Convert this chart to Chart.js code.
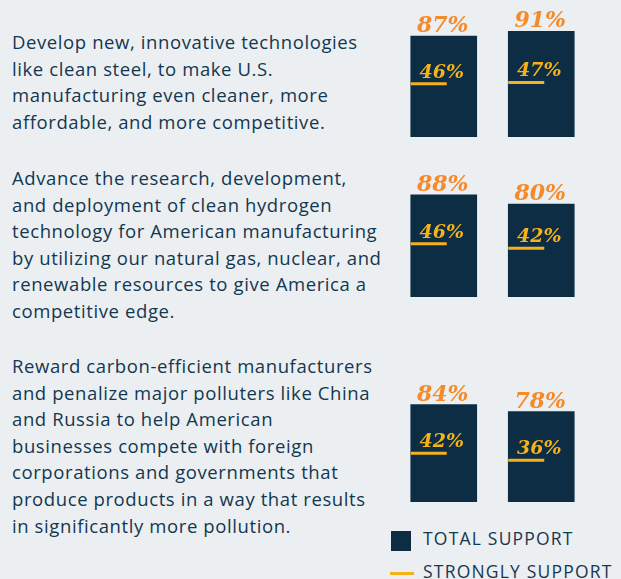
<!DOCTYPE html>
<html>
<head>
<meta charset="utf-8">
<script src="https://cdn.jsdelivr.net/npm/chart.js@4"></script>
<style>
  html, body { margin: 0; padding: 0; }
  body {
    width: 621px; height: 579px; overflow: hidden; position: relative;
    background: #eceff2;
    font-family: "Open Sans", sans-serif;
    color: #123750;
  }
  .stmt {
    position: absolute; left: 12px;
    font-size: 18.5px; line-height: 26.6px; letter-spacing: 0.6px; white-space: nowrap;
  }
  canvas { position: absolute; }
  .legend { position: absolute; left: 391px; font-size: 17.5px; letter-spacing: 1.2px; color: #17374e; white-space: nowrap; }
  .legend .box { position: absolute; left: 0; width: 20px; height: 20px; background: #0c2d44; }
  .legend .dash { position: absolute; left: -1px; width: 24px; height: 3px; background: #f5b21a; }
  .legend span { position: absolute; left: 32px; }
</style>
</head>
<body>

<div class="stmt" style="top:29px">Develop new, innovative technologies<br>like clean steel, to make U.S.<br>manufacturing even cleaner, more<br>affordable, and more competitive.</div>
<div class="stmt" style="top:165px">Advance the research, development,<br>and deployment of clean hydrogen<br>technology for American manufacturing<br>by utilizing our natural gas, nuclear, and<br>renewable resources to give America a<br>competitive edge.</div>
<div class="stmt" style="top:353px">Reward carbon-efficient manufacturers<br>and penalize major polluters like China<br>and Russia to help American<br>businesses compete with foreign<br>corporations and governments that<br>produce products in a way that results<br>in significantly more pollution.</div>

<canvas id="chart1" width="195" height="137" style="left:395px; top:0px"></canvas>
<canvas id="chart2" width="195" height="137" style="left:395px; top:160px"></canvas>
<canvas id="chart3" width="195" height="137" style="left:395px; top:365px"></canvas>

<div class="legend" style="top:531px"><div class="box"></div><span style="top:-5px">TOTAL SUPPORT</span></div>
<div class="legend" style="top:572px"><div class="dash"></div><span style="top:-13px">STRONGLY SUPPORT</span></div>

<script>
// Two bars per statement
const barLabels = ['Bar 1', 'Bar 2'];

// Total support (%) per statement
const totalDevelop = [87, 91];
const totalHydrogen = [88, 80];
const totalReward = [84, 78];

// Strongly support (%) per statement
const strongDevelop = [46, 47];
const strongHydrogen = [46, 42];
const strongReward = [42, 36];

const barColor = '#0c2d44';
const totalColor = '#f58a2a';
const strongColor = '#f5b21a';

// Draws the strongly support marker and both percentage labels
const supportLabels = {
    id: 'supportLabels',
    afterDatasetsDraw(chart) {
        const ctx = chart.ctx;
        const ds = chart.data.datasets[0];
        const yScale = chart.scales.y;
        chart.getDatasetMeta(0).data.forEach((bar, i) => {
            const left = bar.x - bar.width / 2;
            const ly = yScale.getPixelForValue(ds.strong[i]);

            ctx.save();
            ctx.strokeStyle = strongColor;
            ctx.lineWidth = 3;
            ctx.beginPath();
            ctx.moveTo(left, ly);
            ctx.lineTo(left + 36, ly);
            ctx.stroke();

            ctx.textAlign = 'center';
            ctx.textBaseline = 'alphabetic';
            ctx.fillStyle = strongColor;
            ctx.font = 'italic bold 19px "DejaVu Serif"';
            ctx.fillText(ds.strong[i] + '%', bar.x - 2, ly - 6);

            ctx.fillStyle = totalColor;
            ctx.font = 'italic bold 22px "DejaVu Serif"';
            ctx.fillText(ds.data[i] + '%', bar.x - 1, bar.y - 4);
            ctx.restore();
        });
    }
};

const createSupportChart = (id, totals, strongs) => {
    const ctx = document.getElementById(id).getContext('2d');
    return new Chart(ctx, {
        type: 'bar',
        data: {
            labels: barLabels,
            datasets: [{
                label: 'Total support',
                data: totals,
                strong: strongs,
                backgroundColor: barColor,
                borderWidth: 0,
                categoryPercentage: 1,
                barThickness: 66
            }]
        },
        options: {
            responsive: false,
            animation: false,
            layout: { padding: { top: 21, left: 0, right: 0, bottom: 0 } },
            plugins: {
                legend: { display: false },
                tooltip: { enabled: false }
            },
            scales: {
                x: { display: false },
                y: { display: false, min: 0, max: 100 }
            }
        },
        plugins: [supportLabels]
    });
};

createSupportChart('chart1', totalDevelop, strongDevelop);
createSupportChart('chart2', totalHydrogen, strongHydrogen);
createSupportChart('chart3', totalReward, strongReward);
</script>
</body>
</html>
